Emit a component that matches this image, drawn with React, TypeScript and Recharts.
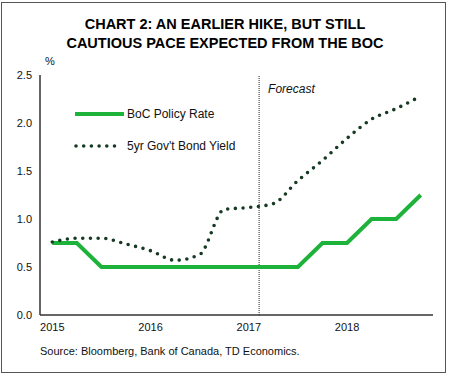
import React from "react";
import { LineChart, Line, XAxis, YAxis, ReferenceLine, Label } from "recharts";

// quarterly, 2015Q1 .. 2018Q4
const quarters = [
  "2015Q1", "2015Q2", "2015Q3", "2015Q4",
  "2016Q1", "2016Q2", "2016Q3", "2016Q4",
  "2017Q1", "2017Q2", "2017Q3", "2017Q4",
  "2018Q1", "2018Q2", "2018Q3", "2018Q4",
];
const policyRate = [0.75, 0.75, 0.5, 0.5, 0.5, 0.5, 0.5, 0.5, 0.5, 0.5, 0.5, 0.75, 0.75, 1.0, 1.0, 1.25];
const bondYield = [0.76, 0.8, 0.8, 0.74, 0.67, 0.57, 0.63, 1.1, 1.12, 1.16, 1.4, 1.61, 1.84, 2.04, 2.15, 2.28];
const yearTicks = [0, 4, 8, 12];
const yearLabels = ["2015", "2016", "2017", "2018"];
const yTicks = [0, 0.5, 1.0, 1.5, 2.0, 2.5];
const forecastStart = 8.42;

const GREEN = "#1DB33A";
const DOTS = "#173a24";
const FONT = "'Liberation Sans', Arial, sans-serif";

const data = quarters.map((q, i) => ({
  i,
  q,
  policy: policyRate[i],
  bond: bondYield[i],
}));

function LegendBox() {
  return (
    <svg width={200} height={50} style={{ overflow: "visible" }}>
      <line x1={0} y1={6} x2={49} y2={6} stroke={GREEN} strokeWidth={4} />
      <text x={52} y={10} fontSize={12} fill="#111" fontFamily={FONT}>
        BoC Policy Rate
      </text>
      <line
        x1={1}
        y1={38}
        x2={44}
        y2={38}
        stroke={DOTS}
        strokeWidth={3.6}
        strokeDasharray="0 7.7"
        strokeLinecap="round"
      />
      <text x={52} y={42} fontSize={12} fill="#111" fontFamily={FONT}>
        5yr Gov't Bond Yield
      </text>
    </svg>
  );
}

export default function App() {
  return (
    <div
      style={{
        position: "absolute",
        left: 0,
        top: 0,
        width: 450,
        height: 378,
        background: "#fff",
        fontFamily: FONT,
      }}
    >
      <div
        style={{
          position: "absolute",
          left: 1,
          top: 2,
          width: 443,
          height: 369,
          border: "1.5px solid #555",
        }}
      />
      <div
        style={{
          position: "absolute",
          left: 0,
          top: 15,
          width: 450,
          textAlign: "center",
          fontWeight: "bold",
          fontSize: 14.5,
          lineHeight: "19px",
          color: "#000",
        }}
      >
        CHART 2: AN EARLIER HIKE, BUT STILL
        <br />
        CAUTIOUS PACE EXPECTED FROM THE BOC
      </div>
      <div style={{ position: "absolute", left: 45, top: 55, fontSize: 11, color: "#111" }}>%</div>
      <div style={{ position: "absolute", top: 0, left: 0 }}>
        <LineChart
          width={450}
          height={378}
          data={data}
          margin={{ top: 75, right: 17, bottom: 33, left: 0 }}
        >
          <XAxis
            dataKey="i"
            type="number"
            domain={[-0.5, 15.5]}
            ticks={yearTicks}
            tickFormatter={(v: number) => yearLabels[yearTicks.indexOf(v)]}
            tickLine={false}
            axisLine={{ stroke: "#333", strokeWidth: 1.5 }}
            tick={{ fontSize: 11, fill: "#111", fontFamily: FONT }}
            height={30}
          />
          <YAxis
            type="number"
            domain={[0, 2.5]}
            ticks={yTicks}
            tickFormatter={(v: number) => v.toFixed(1)}
            tickLine={false}
            axisLine={{ stroke: "#333", strokeWidth: 1.5 }}
            tick={{ fontSize: 11, fill: "#111", fontFamily: FONT }}
            width={40}
          />
          <ReferenceLine x={forecastStart} stroke="#222" strokeWidth={1} strokeDasharray="1 1">
            <Label
              value="Forecast"
              position="insideTopLeft"
              offset={9}
              style={{ fontSize: 12, fontStyle: "italic", fill: "#111", fontFamily: FONT }}
            />
          </ReferenceLine>
          <Line
            dataKey="policy"
            type="linear"
            stroke={GREEN}
            strokeWidth={4}
            dot={false}
            isAnimationActive={false}
          />
          <Line
            dataKey="bond"
            type="monotone"
            stroke={DOTS}
            strokeWidth={3.6}
            strokeDasharray="0 7.7"
            strokeLinecap="round"
            dot={false}
            isAnimationActive={false}
          />
        </LineChart>
      </div>
      <div style={{ position: "absolute", left: 75, top: 108 }}>
        <LegendBox />
      </div>
      <div
        style={{
          position: "absolute",
          left: 40,
          top: 345,
          fontSize: 11,
          color: "#111",
        }}
      >
        Source: Bloomberg, Bank of Canada, TD Economics.
      </div>
    </div>
  );
}
